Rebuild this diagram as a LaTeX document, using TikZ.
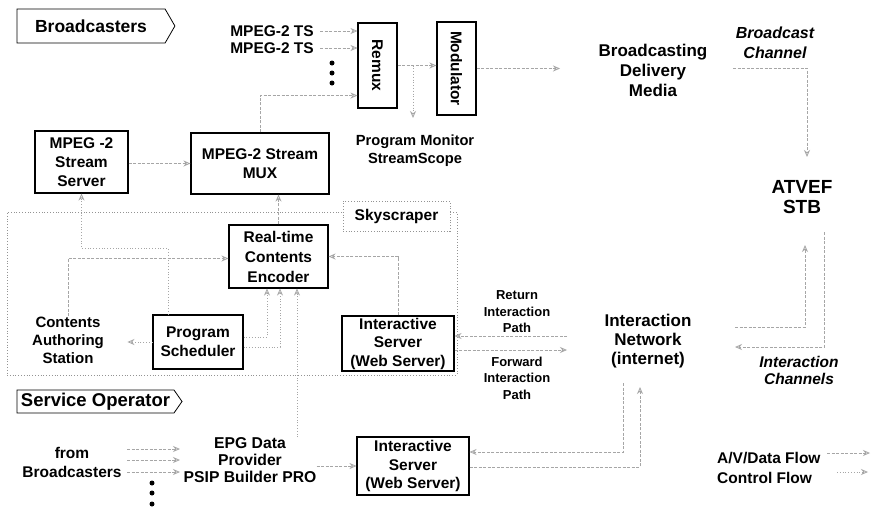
\documentclass[tikz,border=0pt]{standalone}
\usepackage{fontspec}
\usepackage{graphicx}
\setmainfont{Liberation Sans}
\usetikzlibrary{arrows.meta,shapes.symbols,calc}
\newcommand{\myfs}[2]{\fontsize{#1pt}{#2pt}\selectfont\bfseries}
\begin{document}
\begin{tikzpicture}[x=1pt,y=-1pt,
  box/.style={draw=black, line width=1.1pt, align=center, inner sep=0pt, font=\myfs{15.5}{19}},
  lbl/.style={align=center, inner sep=0pt, font=\myfs{15.5}{18}},
  banner/.style={draw=black, line width=0.8pt, signal, signal to=east, inner sep=0pt},
  dotn/.style={circle, fill=black, inner sep=0pt, minimum size=5pt},
  data/.style={draw=gray!70, line width=0.8pt, dash pattern=on 3pt off 1.5pt, -{Stealth[open,length=7pt,width=6pt]}},
  ctrl/.style={draw=gray!70, line width=0.8pt, dotted, -{Stealth[open,length=7pt,width=6pt]}},
  region/.style={draw=gray!85, line width=0.8pt, dotted, inner sep=0pt}]
\useasboundingbox (0,0) rectangle (873,517);
\fill[white] (0,0) rectangle (873,517);

% region and skyscraper
\node[region, minimum width=450pt, minimum height=163pt] (region) at (232,293.5) {};
\node[region, fill=white, minimum width=107pt, minimum height=30pt, font=\myfs{15.5}{18}] (sky) at (396.5,216) {Skyscraper};

% banners
\node[banner, signal pointer angle=120, minimum width=158pt, minimum height=34pt, font=\myfs{17.5}{20}] (bcst) at (91,26) {Broadcasters};
\node[banner, signal pointer angle=110, minimum width=165pt, minimum height=23pt, font=\myfs{18.5}{20}] (svc) at (95.5,401.5) {Service Operator};

% top row
\node[lbl, anchor=east] (ts1) at (314,31) {MPEG-2 TS};
\node[lbl, anchor=east] (ts2) at (314,48) {MPEG-2 TS};
\node[dotn] (d1) at (332,63) {};
\node[dotn] (d2) at (332,73) {};
\node[dotn] (d3) at (332,83) {};
\node[box, minimum width=39pt, minimum height=85pt] (remux) at (377.5,65.5) {\rotatebox{-90}{Remux}};
\node[box, minimum width=39pt, minimum height=93pt] (modul) at (456.5,68.5) {\rotatebox{-90}{Modulator}};
\node[lbl, font=\myfs{14.7}{18}] (pm) at (415,151) {Program Monitor\\StreamScope};
\node[lbl, font=\myfs{17}{20}] (bdm) at (653,70) {Broadcasting\\Delivery\\Media};
\node[lbl, font=\myfs{16}{20}\itshape] (bch) at (775,43) {Broadcast\\Channel};
\node[lbl, font=\myfs{19}{20}] (atvef) at (802,197) {ATVEF\\STB};

% second row
\node[box, minimum width=93pt, minimum height=62pt] (server) at (81.5,162) {MPEG -2\\Stream\\Server};
\node[box, minimum width=138pt, minimum height=61pt] (mux) at (260,163.5) {MPEG-2 Stream\\MUX};

% region contents
\node[box, minimum width=99pt, minimum height=63pt, font=\myfs{15.5}{20}] (enc) at (278.5,256.5) {Real-time\\Contents\\Encoder};
\node[box, minimum width=90pt, minimum height=54pt] (sched) at (198,342) {Program\\Scheduler};
\node[box, minimum width=112pt, minimum height=55pt, font=\myfs{15.5}{18.5}] (iserv1) at (398,343.5) {Interactive\\Server\\(Web Server)};
\node[lbl, font=\myfs{15}{18}] (contents) at (68,340) {Contents\\Authoring\\Station};

% interaction paths
\node[lbl, font=\myfs{13}{16.5}] (ret) at (517,312) {Return\\Interaction\\Path};
\node[lbl, font=\myfs{13}{16.5}] (fwd) at (517,378) {Forward\\Interaction\\Path};
\node[lbl, font=\myfs{17}{19}] (inet) at (648,341) {Interaction\\Network\\(internet)};
\node[lbl, font=\myfs{15.5}{17}\itshape] (ich) at (799,370) {Interaction\\Channels};

% bottom
\node[lbl, font=\myfs{15.5}{19}] (fromb) at (72,462) {from\\Broadcasters};
\node[dotn] (e1) at (152,483) {};
\node[dotn] (e2) at (152,493) {};
\node[dotn] (e3) at (152,504) {};
\node[lbl, font=\myfs{15.7}{17}] (epg) at (250,460) {EPG Data\\Provider\\PSIP Builder PRO};
\node[box, minimum width=112pt, minimum height=58pt, font=\myfs{15.5}{18.5}] (iserv2) at (413,466) {Interactive\\Server\\(Web Server)};

% legend
\node[lbl, anchor=west] (lg1) at (717,458) {A/V/Data Flow};
\node[lbl, anchor=west] (lg2) at (717,478) {Control Flow};

% coordinates
\coordinate (pmarrow) at (413,118);
\coordinate (bend1) at (560,68.5);
\coordinate (bc0) at (733,68);
\coordinate (bc1) at (807,157);
\coordinate (ic1) at (735,327);
\coordinate (ic2) at (805,245);
\coordinate (ic3) at (824,232);
\coordinate (ic4) at (735,347);
\coordinate (r1) at (567,336);
\coordinate (f1) at (567,350);
\coordinate (fb1) at (127,449);
\coordinate (fb2) at (127,460);
\coordinate (fb3) at (127,472);
\coordinate (fe1) at (180,449);
\coordinate (fe2) at (180,460);
\coordinate (fe3) at (180,472);
\coordinate (ep) at ([xshift=18.5pt]enc.south);
\coordinate (n1) at (623,383);
\coordinate (n2) at (640,387);
\coordinate (l1a) at (827,453);
\coordinate (l1b) at (870,453);
\coordinate (l2a) at (837,472);
\coordinate (l2b) at (868,472);

% top connectors
\draw[data] ([xshift=6pt]ts1.east) -- (ts1.east -| remux.west);
\draw[data] ([xshift=6pt]ts2.east) -- (ts2.east -| remux.west);
\draw[data] (mux.north) |- ([yshift=13pt]remux.south west);
\draw[data] (remux.east) -- (remux.east -| modul.west);
\draw[ctrl] (remux.east -| pmarrow) -- (pmarrow);
\draw[data] (modul.east) -- (bend1);
\draw[data] (bc0) -| (bc1);
\draw[data] (ic1) -| (ic2);
\draw[data] (ic3) |- (ic4);

% middle connectors
\draw[data] (server.east |- mux.west) -- (mux.west);
\draw[data] (enc.north) -- (enc.north |- mux.south);
\draw[ctrl] ([xshift=-30pt]sched.north) |- ([yshift=-55pt]server.south) -- (server.south);
\draw[data] (contents.north) |- ([yshift=-2pt]enc.west);
\draw[data] (iserv1.north) |- (enc.east);
\draw[ctrl] ([yshift=5pt]sched.east) -| ([xshift=-11.5pt]enc.south);
\draw[ctrl] ([yshift=-5pt]sched.east) -| ([xshift=1.5pt]enc.south);
\draw[ctrl] (ep |- epg.north) -- (ep);
\draw[ctrl] (sched.west) -- ([xshift=-25pt]sched.west);
\draw[data] (r1) -- (r1 -| iserv1.east);
\draw[data] (iserv1.east |- f1) -- (f1);

% bottom connectors
\draw[data] (fb1) -- (fe1);
\draw[data] (fb2) -- (fe2);
\draw[data] (fb3) -- (fe3);
\draw[data] (epg.east |- iserv2.west) -- (iserv2.west);
\draw[data] (n1) |- ([yshift=14pt]iserv2.east);
\draw[data] ([yshift=-1pt]iserv2.east) -| (n2);

% legend arrows
\draw[data] (l1a) -- (l1b);
\draw[ctrl] (l2a) -- (l2b);
\end{tikzpicture}
\end{document}
